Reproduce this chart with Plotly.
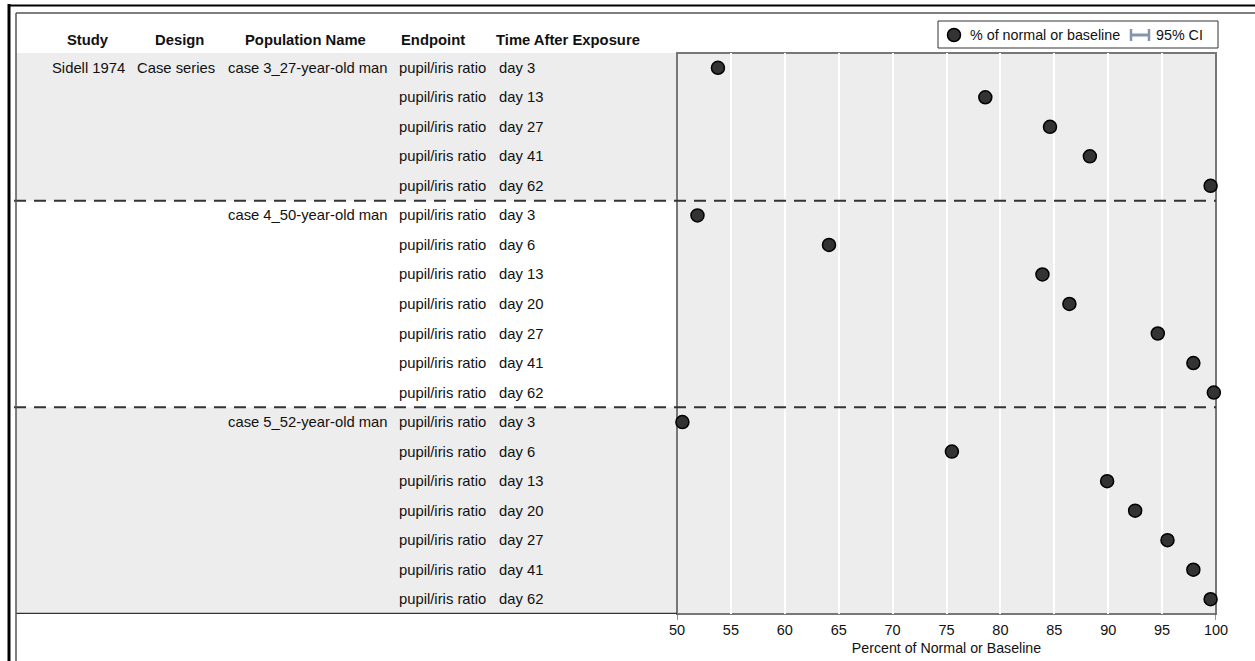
import plotly.graph_objects as go

# ---------------- data ----------------
study = "Sidell 1974"
design = "Case series"
endpoint = "pupil/iris ratio"
populations = ["case 3_27-year-old man", "case 4_50-year-old man", "case 5_52-year-old man"]
times_case3 = ["day 3", "day 13", "day 27", "day 41", "day 62"]
values_case3 = [53.8, 78.6, 84.6, 88.3, 99.5]
times_case4 = ["day 3", "day 6", "day 13", "day 20", "day 27", "day 41", "day 62"]
values_case4 = [51.9, 64.1, 83.9, 86.4, 94.6, 97.9, 99.8]
times_case5 = ["day 3", "day 6", "day 13", "day 20", "day 27", "day 41", "day 62"]
values_case5 = [50.5, 75.5, 89.9, 92.5, 95.5, 97.9, 99.5]
headers = ["Study", "Design", "Population Name", "Endpoint", "Time After Exposure"]
x_ticks = [50, 55, 60, 65, 70, 75, 80, 85, 90, 95, 100]
legend_labels = ["% of normal or baseline", "95% CI"]

groups = [(populations[0], times_case3, values_case3),
          (populations[1], times_case4, values_case4),
          (populations[2], times_case5, values_case5)]

# ---------------- layout helpers ----------------
W, H = 1255, 661
ML, MR, MT, MB = 677, 39, 53, 47
PW, PH = W - ML - MR, H - MT - MB
FONT = "Arial, 'Liberation Sans', Helvetica, sans-serif"
FS = 14.8
TXT = "#111111"
CI_COLOR = "#8595ad"


def px_x(px):
    return (px - ML) / PW


def px_y(py):
    return (H - MB - py) / PH


rows_y, rows_x, rows_pop, rows_time = [], [], [], []
group_bounds = []
i = 0
for pop, times, vals in groups:
    start = i
    for k, (t, v) in enumerate(zip(times, vals)):
        rows_y.append(i)
        rows_x.append(v)
        rows_pop.append(pop if k == 0 else "")
        rows_time.append(t)
        i += 1
    group_bounds.append((start - 0.5, i - 0.5))
n_rows = i

fig = go.Figure()

fig.add_trace(go.Scatter(
    x=rows_x, y=rows_y, mode="markers", name=legend_labels[0],
    marker=dict(size=13, color="#333333", line=dict(color="#000000", width=1.5)),
    cliponaxis=False, hoverinfo="x", showlegend=False))

shapes = []
annotations = []

# shaded bands in the table region (groups 1 and 3)
for gi, (y0, y1) in enumerate(group_bounds):
    if gi % 2 == 0:
        shapes.append(dict(type="rect", xref="paper", yref="y", x0=px_x(16), x1=0,
                           y0=y0, y1=y1, fillcolor="#ededed", line=dict(width=0),
                           layer="below"))

# dashed separators between groups
for (y0, y1) in group_bounds[:-1]:
    shapes.append(dict(type="line", xref="paper", yref="y", x0=px_x(14), x1=1,
                       y0=y1, y1=y1, line=dict(color="#333333", width=2, dash="12px,8px"),
                       layer="above"))

# bottom line of the table
shapes.append(dict(type="line", xref="paper", yref="y", x0=px_x(16), x1=0,
                   y0=n_rows - 0.5, y1=n_rows - 0.5,
                   line=dict(color="#333333", width=2.5)))

# outer frames
shapes.append(dict(type="line", xref="paper", yref="paper", x0=px_x(9), x1=px_x(9),
                   y0=px_y(4), y1=px_y(H), line=dict(color="#000000", width=3)))
shapes.append(dict(type="line", xref="paper", yref="paper", x0=px_x(8), x1=px_x(W),
                   y0=px_y(5.5), y1=px_y(5.5), line=dict(color="#000000", width=2)))
shapes.append(dict(type="line", xref="paper", yref="paper", x0=px_x(16), x1=px_x(16),
                   y0=px_y(13), y1=px_y(H), line=dict(color="#555555", width=1.5)))
shapes.append(dict(type="line", xref="paper", yref="paper", x0=px_x(16), x1=px_x(W),
                   y0=px_y(13), y1=px_y(13), line=dict(color="#555555", width=1.5)))

# plot frame
shapes.append(dict(type="rect", xref="paper", yref="paper", x0=0, x1=1, y0=0, y1=1,
                   line=dict(color="#777777", width=2), layer="below"))

# end ticks
for xv in (x_ticks[0], x_ticks[-1]):
    shapes.append(dict(type="line", xref="x", yref="paper", x0=xv, x1=xv,
                       y0=0, y1=px_y(H - MB + 6), line=dict(color="#333333", width=1)))

# ---- legend (drawn by hand to match the reference box) ----
LEG_Y = 35
shapes.append(dict(type="rect", xref="paper", yref="paper",
                   x0=px_x(938), x1=px_x(1218), y0=px_y(48), y1=px_y(21),
                   line=dict(color="#333333", width=1), fillcolor="white"))
shapes.append(dict(type="circle", xref="paper", yref="paper",
                   xsizemode="pixel", ysizemode="pixel",
                   xanchor=px_x(954), yanchor=px_y(LEG_Y),
                   x0=-6.5, x1=6.5, y0=-6.5, y1=6.5,
                   fillcolor="#333333", line=dict(color="#000000", width=1.5)))
shapes.append(dict(type="line", xref="paper", yref="paper",
                   x0=px_x(1130), x1=px_x(1150), y0=px_y(LEG_Y), y1=px_y(LEG_Y),
                   line=dict(color=CI_COLOR, width=3)))
for xe in (1131, 1149):
    shapes.append(dict(type="line", xref="paper", yref="paper",
                       x0=px_x(xe), x1=px_x(xe), y0=px_y(LEG_Y - 6), y1=px_y(LEG_Y + 6),
                       line=dict(color=CI_COLOR, width=2.5)))
annotations.append(dict(text=legend_labels[0], xref="paper", yref="paper",
                        x=px_x(968), y=px_y(LEG_Y), xanchor="left", yanchor="middle",
                        showarrow=False, font=dict(family=FONT, size=14.3, color=TXT)))
annotations.append(dict(text=legend_labels[1], xref="paper", yref="paper",
                        x=px_x(1154), y=px_y(LEG_Y), xanchor="left", yanchor="middle",
                        showarrow=False, font=dict(family=FONT, size=14.3, color=TXT)))

# headers
header_x = [88, 179, 305, 433, 568]
for h, hx in zip(headers, header_x):
    annotations.append(dict(text="<b>%s</b>" % h, xref="paper", yref="paper",
                            x=px_x(hx), y=px_y(40), xanchor="center", yanchor="middle",
                            showarrow=False, font=dict(family=FONT, size=FS, color=TXT)))

# row text
for k, y in enumerate(rows_y):
    if k == 0:
        annotations.append(dict(text=study, xref="paper", yref="y", x=px_x(88), y=y,
                                xanchor="center", yanchor="middle", showarrow=False,
                                font=dict(family=FONT, size=FS, color=TXT)))
        annotations.append(dict(text=design, xref="paper", yref="y", x=px_x(176), y=y,
                                xanchor="center", yanchor="middle", showarrow=False,
                                font=dict(family=FONT, size=FS, color=TXT)))
    if rows_pop[k]:
        annotations.append(dict(text=rows_pop[k], xref="paper", yref="y", x=px_x(308), y=y,
                                xanchor="center", yanchor="middle", showarrow=False,
                                font=dict(family=FONT, size=FS, color=TXT)))
    annotations.append(dict(text=endpoint, xref="paper", yref="y", x=px_x(442), y=y,
                            xanchor="center", yanchor="middle", showarrow=False,
                            font=dict(family=FONT, size=FS, color=TXT)))
    annotations.append(dict(text=rows_time[k], xref="paper", yref="y", x=px_x(497), y=y,
                            xanchor="left", yanchor="middle", showarrow=False,
                            font=dict(family=FONT, size=FS, color=TXT)))

fig.update_layout(
    width=W, height=H,
    margin=dict(l=ML, r=MR, t=MT, b=MB, pad=0, autoexpand=False),
    paper_bgcolor="white", plot_bgcolor="#ededed",
    font=dict(family=FONT, size=FS, color=TXT),
    shapes=shapes, annotations=annotations,
    showlegend=False,
    xaxis=dict(range=[50, 100], tickvals=x_ticks, showgrid=True, gridcolor="white",
               gridwidth=2, zeroline=False, showline=False, ticks="",
               automargin=False, ticklabelstandoff=5,
               tickfont=dict(family=FONT, size=14.5, color=TXT),
               title=dict(text="Percent of Normal or Baseline", standoff=6,
                          font=dict(family=FONT, size=14.2, color=TXT)),
               layer="below traces", fixedrange=True),
    yaxis=dict(range=[n_rows - 0.5, -0.5], visible=False, fixedrange=True,
               automargin=False),
)

fig.write_html("out.html", config={"displayModeBar": False},
               post_script="document.body.style.margin='0';document.body.style.overflow='hidden';")
